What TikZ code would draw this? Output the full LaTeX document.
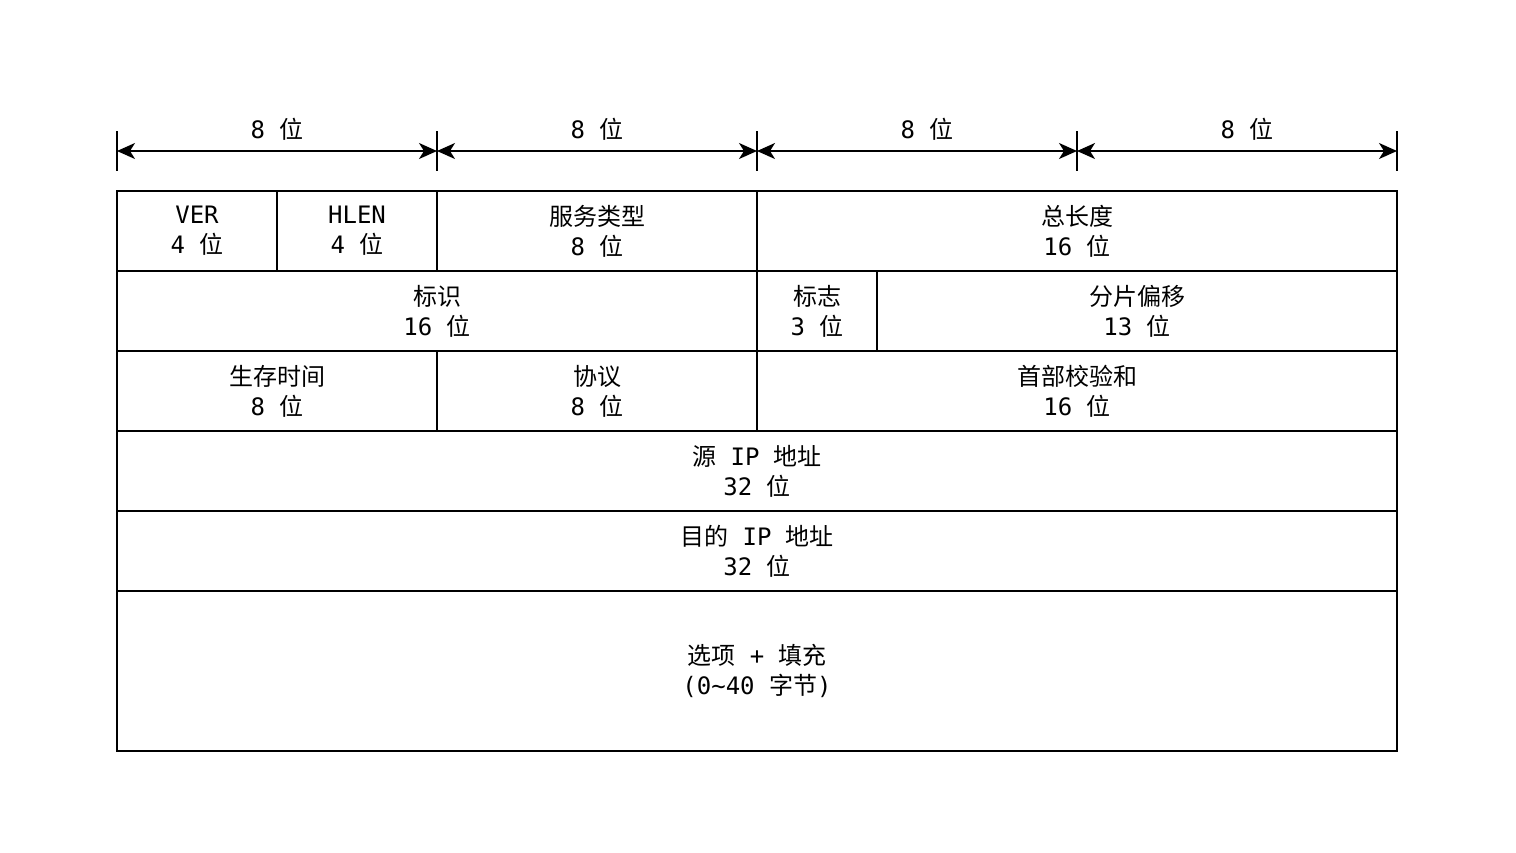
\documentclass[tikz,border=0pt]{standalone}
\usepackage{fontspec}
\setmonofont{DejaVu Sans Mono}
\newfontfamily\cjk{Noto Sans CJK SC}
\usetikzlibrary{arrows.meta,calc}
\tikzset{
  cell/.style={draw=black, line width=1.6pt, inner sep=0pt, align=center,
    font=\fontsize{24pt}{30pt}\ttfamily},
  lbl/.style={inner sep=0pt, font=\fontsize{24pt}{30pt}\ttfamily},
  tick/.style={line width=1.6pt},
  dim/.style={line width=1.6pt, {Stealth[length=18pt,width=16pt,inset=5pt]}-{Stealth[length=18pt,width=16pt,inset=5pt]}}
}
\newcommand{\C}[1]{{\cjk #1}}
\begin{document}
\begin{tikzpicture}[x=1pt,y=-1pt]
\useasboundingbox (0,0) rectangle (1516,852);
\newcommand{\cellat}[6]{%
  \node[cell, minimum width=#3-#2, minimum height=#5-#4] (#1) at ({(#2+#3)/2},{(#4+#5)/2}) {#6};}
\cellat{ver}{117}{277}{191}{271}{VER\\4 \C{位}}
\cellat{hlen}{277}{437}{191}{271}{HLEN\\4 \C{位}}
\cellat{tos}{437}{757}{191}{271}{\C{服务类型}\\8 \C{位}}
\cellat{len}{757}{1397}{191}{271}{\C{总长度}\\16 \C{位}}
\cellat{id}{117}{757}{271}{351}{\C{标识}\\16 \C{位}}
\cellat{flag}{757}{877}{271}{351}{\C{标志}\\3 \C{位}}
\cellat{off}{877}{1397}{271}{351}{\C{分片偏移}\\13 \C{位}}
\cellat{ttl}{117}{437}{351}{431}{\C{生存时间}\\8 \C{位}}
\cellat{proto}{437}{757}{351}{431}{\C{协议}\\8 \C{位}}
\cellat{sum}{757}{1397}{351}{431}{\C{首部校验和}\\16 \C{位}}
\cellat{src}{117}{1397}{431}{511}{\C{源} IP \C{地址}\\32 \C{位}}
\cellat{dst}{117}{1397}{511}{591}{\C{目的} IP \C{地址}\\32 \C{位}}
\cellat{opt}{117}{1397}{591}{751}{\C{选项} + \C{填充}\\(0\textasciitilde40 \C{字节})}
\foreach \i/\x in {0/117,1/437,2/757,3/1077,4/1397}{
  \coordinate (t\i) at (\x,151);
  \coordinate (ta\i) at (\x,131);
  \coordinate (tb\i) at (\x,171);
  \draw[tick] (ta\i) -- (tb\i);
}
\foreach \a/\b/\dx in {0/1/0,1/2/0,2/3/10,3/4/10}{
  \draw[dim] (t\a) -- (t\b);
  \node[lbl] (l\a) at ($(t\a)!0.5!(t\b)+(\dx,-22)$) {8 \C{位}};
}
\end{tikzpicture}
\end{document}
